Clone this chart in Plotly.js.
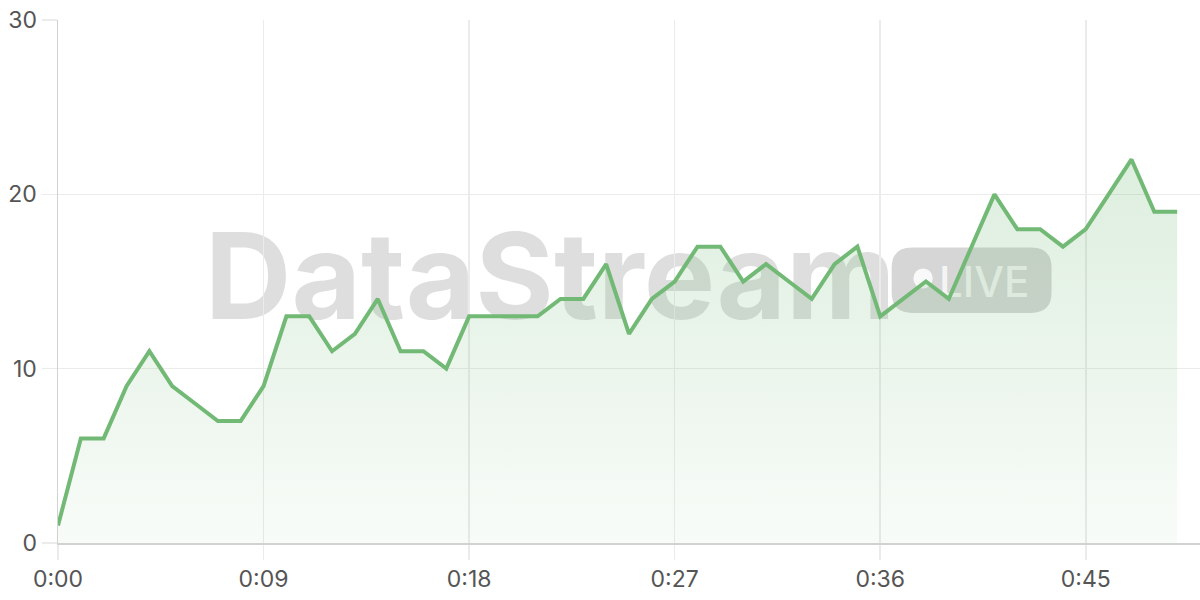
<!DOCTYPE html>
<html>
<head>
<meta charset="utf-8">
<script src="https://cdn.plot.ly/plotly-3.0.1.min.js"></script>
<style>
  html, body { margin: 0; padding: 0; background: #ffffff; }
  #chart { width: 1200px; height: 600px; }
</style>
</head>
<body>
<div id="chart"></div>
<script>
// seconds since start of the stream
var seconds = [0, 1, 2, 3, 4, 5, 6, 7, 8, 9,
               10, 11, 12, 13, 14, 15, 16, 17, 18, 19,
               20, 21, 22, 23, 24, 25, 26, 27, 28, 29,
               30, 31, 32, 33, 34, 35, 36, 37, 38, 39,
               40, 41, 42, 43, 44, 45, 46, 47, 48, 49];

var values = [1, 6, 6, 9, 11, 9, 8, 7, 7, 9,
              13, 13, 11, 12, 14, 11, 11, 10, 13, 13,
              13, 13, 14, 14, 16, 12, 14, 15, 17, 17,
              15, 16, 15, 14, 16, 17, 13, 14, 15, 14,
              17, 20, 18, 18, 17, 18, 20, 22, 19, 19];

var xTickVals = [0, 9, 18, 27, 36, 45];
var xTickText = ['0:00', '0:09', '0:18', '0:27', '0:36', '0:45'];
var yTickVals = [0, 10, 20, 30];

var lineColor = 'rgb(114,185,118)';

var trace = {
    x: seconds,
    y: values,
    type: 'scatter',
    mode: 'lines',
    line: { color: lineColor, width: 4 },
    fill: 'tozeroy',
    fillgradient: {
        type: 'vertical',
        start: 0,
        stop: 22,
        colorscale: [
            [0, 'rgba(114,185,118,0.05)'],
            [1, 'rgba(114,185,118,0.24)']
        ]
    },
    hoverinfo: 'x+y'
};

// rounded pill behind the "LIVE" label, in x/y data units
function pillPath(x0, x1, y0, y1, rx, ry) {
    return 'M ' + (x0 + rx) + ',' + y0 +
        ' L ' + (x1 - rx) + ',' + y0 +
        ' Q ' + x1 + ',' + y0 + ' ' + x1 + ',' + (y0 + ry) +
        ' L ' + x1 + ',' + (y1 - ry) +
        ' Q ' + x1 + ',' + y1 + ' ' + (x1 - rx) + ',' + y1 +
        ' L ' + (x0 + rx) + ',' + y1 +
        ' Q ' + x0 + ',' + y1 + ' ' + x0 + ',' + (y1 - ry) +
        ' L ' + x0 + ',' + (y0 + ry) +
        ' Q ' + x0 + ',' + y0 + ' ' + (x0 + rx) + ',' + y0 + ' Z';
}

var tickFont = { family: 'Inter, "Noto Sans", sans-serif', size: 23, color: '#555555' };

var layout = {
    width: 1200,
    height: 600,
    margin: { l: 58, r: 0, t: 20, b: 57 },
    paper_bgcolor: '#ffffff',
    plot_bgcolor: '#ffffff',
    showlegend: false,
    xaxis: {
        range: [0, 50],
        tickvals: xTickVals,
        ticktext: xTickText,
        tickfont: tickFont,
        showgrid: true,
        gridcolor: '#ebebeb',
        gridwidth: 1.5,
        showline: true,
        linecolor: '#d2d2d2',
        linewidth: 1.5,
        ticks: 'outside',
        ticklen: 15,
        tickwidth: 1.5,
        tickcolor: '#ebebeb',
        zeroline: false,
        fixedrange: true
    },
    yaxis: {
        range: [0, 30],
        tickvals: yTickVals,
        tickfont: tickFont,
        showgrid: true,
        gridcolor: '#ebebeb',
        gridwidth: 1.5,
        showline: true,
        linecolor: '#d2d2d2',
        linewidth: 1.5,
        ticks: 'outside',
        ticklen: 15,
        tickwidth: 1.5,
        tickcolor: '#ebebeb',
        zeroline: false,
        fixedrange: true
    },
    shapes: [
        {   // watermark word
            type: 'rect', layer: 'below',
            xref: 'x', yref: 'y',
            x0: 4.55, x1: 38.55, y0: 13, y1: 18.2,
            line: { width: 0 },
            fillcolor: 'rgba(0,0,0,0)',
            label: {
                text: 'DataStream',
                textposition: 'middle center',
                font: { family: 'Inter, "Noto Sans", sans-serif', size: 120, weight: 700, color: 'rgba(0,0,0,0.13)' }
            }
        },
        {   // LIVE pill
            type: 'path', layer: 'below',
            xref: 'x', yref: 'y',
            path: pillPath(36.5, 43.5, 13.2, 16.95, 0.9, 1.15),
            line: { width: 0 },
            fillcolor: 'rgba(0,0,0,0.16)'
        },
        {   // live dot
            type: 'circle', layer: 'below',
            xref: 'x', yref: 'y',
            x0: 37.45, x1: 38.3, y0: 14.6, y1: 15.75,
            line: { width: 0 },
            fillcolor: 'rgba(255,255,255,0.85)'
        },
        {   // LIVE text
            type: 'rect', layer: 'below',
            xref: 'x', yref: 'y',
            x0: 38.3, x1: 42.8, y0: 13.2, y1: 16.95,
            line: { width: 0 },
            fillcolor: 'rgba(0,0,0,0)',
            label: {
                text: 'LIVE',
                textposition: 'middle center',
                font: { family: 'Inter, "Noto Sans", sans-serif', size: 42, weight: 500, color: 'rgba(255,255,255,0.75)' }
            }
        }
    ]
};

Plotly.newPlot('chart', [trace], layout, { displayModeBar: false, staticPlot: true });
</script>
</body>
</html>
